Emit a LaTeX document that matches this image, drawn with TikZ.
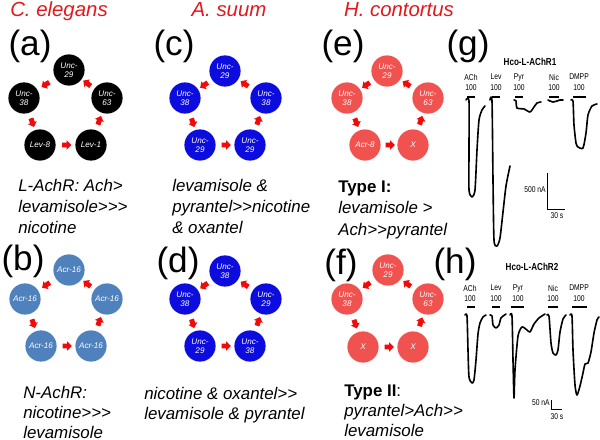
\documentclass[tikz,border=0pt]{standalone}
\usepackage{fontspec}
\setmainfont{Liberation Sans}[Ligatures=TeXOff]
\newfontfamily\narrowfont{Liberation Sans}[FakeStretch=0.8]
\usepackage{tikz}
\usetikzlibrary{positioning, calc}
\usetikzlibrary{shapes.arrows}

\definecolor{titlered}{RGB}{228,24,28}
\definecolor{arrred}{RGB}{240,10,10}
\definecolor{steel}{RGB}{79,129,189}
\definecolor{deepblue}{RGB}{12,12,222}
\definecolor{salmon}{RGB}{240,82,80}

\tikzset{
  ttl/.style={anchor=base, inner sep=0pt, text=titlered, font=\fontsize{14.5}{17}\selectfont\itshape},
  lbl/.style={inner sep=0pt, font=\fontsize{25}{28}\selectfont},
  unit/.style={circle, minimum size=0.78cm, inner sep=0pt, text=white, align=center, font=\fontsize{5.8}{6.3}\selectfont\itshape},
  arr/.style={single arrow, fill=arrred, draw=none, inner xsep=0pt, inner ysep=0.055cm, minimum height=0.23cm, single arrow head extend=0.055cm, single arrow head indent=0pt, sloped, allow upside down},
  body/.style={anchor=north west, inner sep=0pt, align=left, font=\fontsize{12}{15}\selectfont\itshape},
  tr/.style={inner sep=0pt, font=\narrowfont\fontsize{6}{7}\selectfont},
  trace/.style={line width=1.15pt, line join=round, line cap=round},
}

\begin{document}
\begin{tikzpicture}[x=0.025cm, y=-0.025cm]
\useasboundingbox[fill=white] (0,0) rectangle (600,440);

% species
\node[ttl] (tce) at (59,17) {C. elegans};
\node[ttl] (tas) at (229,17) {A. suum};
\node[ttl] (thc) at (399,17) {H. contortus};

% panel letters
\node[lbl] (la) at (30,46) {(a)};
\node[lbl] (lb) at (23,261) {(b)};
\node[lbl] (lc) at (174,46) {(c)};
\node[lbl] (ld) at (178,263) {(d)};
\node[lbl] (le) at (343,46) {(e)};
\node[lbl] (lf) at (341,265) {(f)};
\node[lbl] (lg) at (468,46) {(g)};
\node[lbl] (lh) at (455,264) {(h)};

% (a) C. elegans L-AChR
\node[unit, fill=black] (a1) at (69,70) {Unc-\\29};
\node[unit, fill=black] (a2) at (24,98) {Unc-\\38};
\node[unit, fill=black] (a3) at (107,98) {Unc-\\63};
\node[unit, fill=black] (a4) at (40,145) {Lev-8};
\node[unit, fill=black] (a5) at (91,145) {Lev-1};
\path (a4) -- node[arr] {} (a5);
\path (a5) -- node[arr] {} (a3);
\path (a3) -- node[arr] {} (a1);
\path (a1) -- node[arr] {} (a2);
\path (a2) -- node[arr] {} (a4);
\node[body] (ta) at (18,179) {L-AchR: Ach>\\levamisole>>>\\nicotine};

% (b) C. elegans N-AChR
\node[unit, fill=steel] (b1) at (69,270) {Acr-16};
\node[unit, fill=steel] (b2) at (25,299) {Acr-16};
\node[unit, fill=steel] (b3) at (107,299) {Acr-16};
\node[unit, fill=steel] (b4) at (41,346) {Acr-16};
\node[unit, fill=steel] (b5) at (91,346) {Acr-16};
\path (b4) -- node[arr] {} (b5);
\path (b5) -- node[arr] {} (b3);
\path (b3) -- node[arr] {} (b1);
\path (b1) -- node[arr] {} (b2);
\path (b2) -- node[arr] {} (b4);
\node[body, font=\fontsize{12}{14.2}\selectfont\itshape] (tb) at (23,386) {N-AchR:\\nicotine>>>\\levamisole};

% (c) A. suum
\node[unit, fill=deepblue] (c1) at (225,71) {Unc-\\29};
\node[unit, fill=deepblue] (c2) at (185,98) {Unc-\\38};
\node[unit, fill=deepblue] (c3) at (266,98) {Unc-\\38};
\node[unit, fill=deepblue] (c4) at (200,145) {Unc-\\29};
\node[unit, fill=deepblue] (c5) at (250,145) {Unc-\\29};
\path (c4) -- node[arr] {} (c5);
\path (c5) -- node[arr] {} (c3);
\path (c3) -- node[arr] {} (c1);
\path (c1) -- node[arr] {} (c2);
\path (c2) -- node[arr] {} (c4);
\node[body] (tc) at (172,179) {levamisole \&\\pyrantel>>nicotine\\\& oxantel};

% (d) A. suum
\node[unit, fill=deepblue] (d1) at (225,271) {Unc-\\38};
\node[unit, fill=deepblue] (d2) at (185,299) {Unc-\\38};
\node[unit, fill=deepblue] (d3) at (266,299) {Unc-\\29};
\node[unit, fill=deepblue] (d4) at (200,346) {Unc-\\29};
\node[unit, fill=deepblue] (d5) at (250,346) {Unc-\\38};
\path (d4) -- node[arr] {} (d5);
\path (d5) -- node[arr] {} (d3);
\path (d3) -- node[arr] {} (d1);
\path (d1) -- node[arr] {} (d2);
\path (d2) -- node[arr] {} (d4);
\node[body, font=\fontsize{12}{14.2}\selectfont\itshape] (td) at (144,387) {nicotine \& oxantel>>\\levamisole \& pyrantel};

% (e) H. contortus type I
\node[unit, fill=salmon] (e1) at (387,71) {Unc-\\29};
\node[unit, fill=salmon] (e2) at (347,98) {Unc-\\38};
\node[unit, fill=salmon] (e3) at (428,98) {Unc-\\63};
\node[unit, fill=salmon] (e4) at (365,145) {Acr-8};
\node[unit, fill=salmon] (e5) at (413,145) {X};
\path (e4) -- node[arr] {} (e5);
\path (e5) -- node[arr] {} (e3);
\path (e3) -- node[arr] {} (e1);
\path (e1) -- node[arr] {} (e2);
\path (e2) -- node[arr] {} (e4);
\node[body] (te) at (338,181) {\textbf{\upshape Type I:}\\levamisole >\\Ach>>pyrantel};

% (f) H. contortus type II
\node[unit, fill=salmon] (f1) at (388,270) {Unc-\\29};
\node[unit, fill=salmon] (f2) at (347,299) {Unc-\\38};
\node[unit, fill=salmon] (f3) at (428,299) {Unc-\\63};
\node[unit, fill=salmon] (f4) at (363,347) {X};
\node[unit, fill=salmon] (f5) at (413,347) {X};
\path (f4) -- node[arr] {} (f5);
\path (f5) -- node[arr] {} (f3);
\path (f3) -- node[arr] {} (f1);
\path (f1) -- node[arr] {} (f2);
\path (f2) -- node[arr] {} (f4);
\node[body, font=\fontsize{12}{14.2}\selectfont\itshape] (tf) at (344,385) {{\upshape\textbf{Type II}:}\\pyrantel>Ach>>\\levamisole};

% (g) Hco-L-AChR1
\node[tr, font=\narrowfont\fontsize{7.2}{8}\selectfont\bfseries] (hg) at (530,62) {Hco-L-AChR1};
\node[tr] (g1) at (471,77) {ACh};
\node[tr] (g2) at (496,77) {Lev};
\node[tr] (g3) at (519,77) {Pyr};
\node[tr] (g4) at (554,77) {Nic};
\node[tr] (g5) at (579,77) {DMPP};
\node[tr] (g1c) at (471,88) {100};
\node[tr] (g2c) at (496,88) {100};
\node[tr] (g3c) at (519,88) {100};
\node[tr] (g4c) at (554,88) {100};
\node[tr] (g5c) at (579,88) {100};
\draw[line width=0.9pt] (467,97) -- (475,97) (492,97) -- (500,97) (515,97) -- (523,97) (549,97) -- (559,97) (573,97) -- (586,97);
\draw[trace] plot[smooth, tension=0.4] coordinates {(466,100) (469,101) (469,150) (469,190) (472,197) (475,190) (477,150) (479,120) (482,110) (485,106)};
\draw[trace] plot[smooth, tension=0.4] coordinates {(490,100) (492,101) (493,180) (494,240) (497,246) (500,238) (503,212) (506,186) (510,166)};
\draw[trace] plot[smooth, tension=0.4] coordinates {(514,100) (516,101) (517,108) (524,109) (530,112) (534,107) (537,103) (541,102)};
\draw[trace] plot[smooth, tension=0.4] coordinates {(548,100) (550,101) (553,102) (557,101) (560,100) (563,100)};
\draw[trace] plot[smooth, tension=0.4] coordinates {(571,100) (573,101) (574,125) (576,143) (578,147) (583,148) (586,133) (588,115) (592,106) (597,104)};
\coordinate (gs1) at (547,173);
\coordinate (gs2) at (547,209);
\coordinate (gs3) at (565,209);
\draw[line width=0.7pt] (gs1) -- (gs2) -- (gs3);
\node[tr, anchor=east] (gna) at (546,190) {500 nA};
\node[tr] (gsec) at (557,216) {30 s};

% (h) Hco-L-AChR2
\node[tr, font=\narrowfont\fontsize{7.2}{8}\selectfont\bfseries] (hh) at (532,267) {Hco-L-AChR2};
\node[tr] (h1) at (470,288) {ACh};
\node[tr] (h2) at (496,288) {Lev};
\node[tr] (h3) at (518,288) {Pyr};
\node[tr] (h4) at (553,288) {Nic};
\node[tr] (h5) at (579,288) {DMPP};
\node[tr] (h1c) at (470,299) {100};
\node[tr] (h2c) at (496,299) {100};
\node[tr] (h3c) at (518,299) {100};
\node[tr] (h4c) at (553,299) {100};
\node[tr] (h5c) at (579,299) {100};
\draw[line width=0.9pt] (467,307) -- (475,307) (492,307) -- (500,307) (511,307) -- (524,307) (548,307) -- (558,307) (572,307) -- (587,307);
\draw[trace] plot[smooth, tension=0.4] coordinates {(465,315) (467,316) (468,350) (469,377) (472,383) (474,380) (476,360) (478,334) (480,323) (483,317) (486,315)};
\draw[trace] plot[smooth, tension=0.4] coordinates {(490,315) (492,316) (493,325) (496,328) (499,325) (501,318) (506,314)};
\draw[trace] plot[smooth, tension=0.4] coordinates {(510,315) (512,316) (513,360) (514,398) (515,370) (518,336) (522,327) (527,330) (530,332) (534,324) (539,318) (545,314)};
\draw[trace] plot[smooth, tension=0.4] coordinates {(547,315) (549,316) (551,343) (553,353) (556,355) (558,350) (560,332) (563,319) (566,315)};
\draw[trace] plot[smooth, tension=0.4] coordinates {(570,315) (572,316) (573,350) (575,385) (577,395) (580,386) (583,373) (585,364) (588,363) (591,352) (594,333) (597,320) (599,317)};
\coordinate (hs1) at (551,400);
\coordinate (hs2) at (551,409);
\coordinate (hs3) at (562,409);
\draw[line width=0.7pt] (hs1) -- (hs2) -- (hs3);
\node[tr, anchor=east] (hna) at (550,403) {50 nA};
\node[tr] (hsec) at (557,417) {30 s};
\end{tikzpicture}
\end{document}
